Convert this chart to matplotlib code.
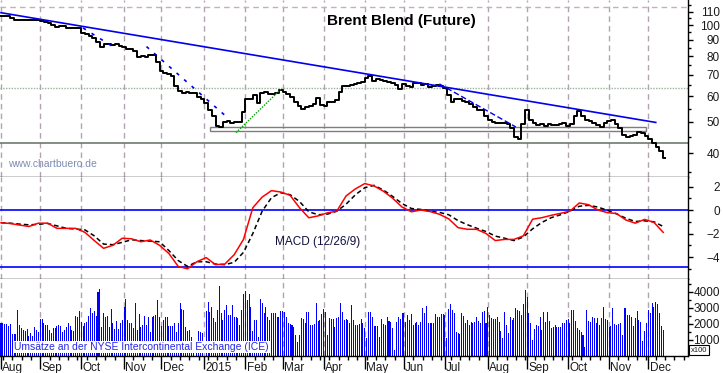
import numpy as np
import pandas as pd
import matplotlib
matplotlib.use('Agg')
import matplotlib.pyplot as plt
from matplotlib.patches import Rectangle
from matplotlib.ticker import NullFormatter

plt.rcParams['font.family'] = ['Liberation Sans', 'DejaVu Sans']

# trading calendar of the chart (x axis = trading day number)
days = pd.bdate_range('2014-08-01', '2015-12-31')

# Brent close, every 2nd trading day from 2014-08-01
close = [106.8, 106.6, 106.3, 105.5, 104.0, 103.6, 103.4, 103.9, 103.9, 103.6,
         103.9, 103.0, 102.4, 101.2, 100.0, 98.6, 99.3, 99.5, 98.2, 97.9,
         98.1, 97.7, 94.4, 93.6, 92.6, 90.9, 88.5, 85.4, 87.0, 87.1,
         86.7, 87.1, 86.2, 85.7, 84.2, 84.2, 83.0, 79.5, 80.3, 79.7,
         80.7, 80.4, 76.7, 71.9, 70.8, 70.4, 69.4, 64.6, 62.4, 61.6,
         61.9, 61.5, 61.3, 59.7, 58.7, 57.2, 54.4, 52.0, 48.7, 48.2,
         50.0, 50.2, 49.7, 49.8, 49.8, 53.6, 58.7, 58.7, 60.4, 57.4,
         61.3, 62.1, 61.0, 61.2, 61.5, 62.6, 61.9, 61.2, 59.6, 57.7,
         56.0, 55.0, 55.7, 56.2, 57.0, 59.5, 56.6, 55.9, 57.8, 57.6,
         58.5, 61.9, 64.5, 64.8, 65.1, 65.7, 65.8, 66.6, 68.2, 69.2,
         67.2, 68.1, 67.6, 67.0, 66.5, 66.2, 65.2, 63.2, 65.5, 64.6,
         64.2, 65.9, 66.0, 65.2, 65.5, 64.3, 64.7, 65.0, 64.5, 63.5,
         60.6, 57.5, 59.1, 58.8, 58.1, 57.7, 57.0, 55.8, 54.6, 54.3,
         52.1, 50.7, 50.0, 49.5, 49.6, 49.5, 49.1, 47.9, 44.9, 44.1,
         49.2, 54.4, 50.8, 49.7, 48.9, 49.2, 48.7, 49.4, 49.0, 48.9,
         49.2, 49.5, 48.5, 49.2, 52.1, 54.1, 52.3, 50.8, 50.4, 49.6,
         48.9, 48.2, 49.6, 50.3, 50.7, 49.4, 47.8, 45.6, 44.8, 45.1,
         45.5, 46.4, 46.3, 45.1, 44.1, 42.9, 41.8, 40.6, 38.6]

# MACD (12/26/9) and signal, every 5th trading day
macd = [-1.08, -1.15, -1.28, -1.40, -1.12, -1.12, -1.56, -1.56, -1.56, -1.90,
        -2.60, -3.26, -3.00, -2.40, -2.45, -2.70, -2.55, -3.00, -3.70, -4.80,
        -5.00, -4.40, -4.05, -4.65, -4.60, -3.80, -2.50, 0.20, 1.10, 1.65,
        1.53, 1.25, 0.20, -0.66, -0.50, -0.24, -0.10, 1.20, 1.80, 2.25,
        2.05, 1.60, 1.00, 0.25, -0.15, 0.00, -0.13, -0.36, -0.75, -1.50,
        -1.64, -1.64, -2.00, -2.60, -2.50, -2.50, -2.20, -0.78, -0.65, -0.45,
        -0.28, -0.10, 0.60, 0.45, 0.00, -0.22, -0.30, -0.85, -1.12, -0.80,
        -1.05, -1.90]
signal = [-1.08, -1.12, -1.20, -1.26, -1.22, -1.14, -1.35, -1.56, -1.62, -1.69,
          -2.20, -2.90, -2.95, -2.75, -2.53, -2.60, -2.65, -2.70, -3.45, -4.30,
          -4.80, -4.40, -4.40, -4.60, -4.65, -4.45, -3.60, -2.00, -0.10, 1.05,
          1.47, 1.30, 0.73, -0.15, -0.40, -0.35, -0.10, 0.50, 1.30, 1.90,
          2.10, 1.70, 1.15, 0.55, 0.13, 0.05, -0.10, -0.20, -0.40, -0.90,
          -1.25, -1.55, -1.83, -2.22, -2.40, -2.60, -2.30, -1.60, -1.05, -0.65,
          -0.40, -0.10, 0.32, 0.40, 0.25, -0.02, -0.33, -0.70, -0.98, -0.92,
          -1.00, -1.40]

# daily volume (x100 contracts), one value per trading day
volume_2014 = [2080, 2040, 2000, 2000, 1880, 2000, 1380, 1380, 1400, 2880, 1940, 1730, 1630, 1580, 1670,
               1250, 1420, 1250, 1830, 1630, 1500,
               2310, 2310, 2080, 1940, 1940, 1630, 1460, 1730, 1730, 1900, 1940, 1880, 1520, 1630, 1830,
               2080, 1880, 1630, 1580, 2500, 2420, 2830,
               2150, 1880, 2080, 2150, 2500, 2980, 2670, 2800, 2500, 4020, 4170, 1830, 2710, 2460, 2500,
               1830, 2920, 2080, 1670, 2210, 1670, 2040, 2250,
               3080, 3540, 2250, 2040, 2040, 1730, 3290, 1630, 2630, 1830, 1960, 2500, 1960, 2460, 1520,
               2420, 2500, 2540, 3500, 2460, 1900,
               2250, 2460, 2460, 1880, 1880, 1880, 2040, 1520, 2040, 3290, 2920, 2880, 1830, 1580, 1630,
               1200, 600, 0, 400, 1560, 1500, 1460, 0]
volume_2015a = [2830, 3400, 2770, 3080, 2350, 2150, 2880, 4400, 2670, 2250,
                2880, 3190, 2560, 2560, 3190, 2460, 2420, 2350, 1940, 2880,
                3880, 4080, 3500, 3880, 3080, 1580, 2250, 2250, 1210, 3540,
                3290, 2670, 3040, 2460, 2250, 2710, 2670, 2710, 2460, 2460,
                2830, 2800, 2770, 2460, 2040, 2000, 1940, 1790, 1310, 900,
                1310, 2350, 2290, 2040, 2770, 2770, 1940, 1940, 2000, 3290,
                2210, 2250, 2630, 2920, 2770, 1310, 2350, 2290, 2290, 1830,
                2350, 2420, 3330, 2770, 2250, 2290, 2250, 2040, 3190, 2250,
                1940, 1940, 2000]
volume_2015b = [2290, 2080, 1730, 1100, 2770, 2770, 2420, 1880, 1880, 1880, 1170,
                2290, 2000, 1940, 2460, 2210, 2150, 1730, 380, 2150, 2460,
                2290, 2670, 2670, 2150, 2560, 2250, 2630, 1940, 2080, 2150, 1940,
                2150, 2980, 2710, 3130, 2080, 2040, 2040, 2040, 2600, 2460, 2460,
                2630, 2630, 2560, 1100, 2920, 3250, 2880, 2710, 1520, 1420,
                1350, 2670, 2500, 2080, 2250, 1940, 2150, 2080, 2150, 2460, 2210,
                2080, 2770, 2830, 2080, 3080, 2560, 2350, 2300, 2290, 2460, 2150,
                1580, 1100, 2770, 1940, 1420, 2460, 2250, 2350, 2980, 2880, 2800,
                2560, 3250, 4130, 3710, 2670, 2040, 1000, 1670, 1940, 1880,
                2460, 1630, 2770, 2150, 2770, 2210, 1730, 1800, 1940, 1830, 1790,
                1830, 2080, 2080, 2250, 2310, 2040, 2900, 2880, 2210, 1730,
                1630, 1500, 1310, 580, 2900, 2210, 2150, 2420, 2350, 2040, 2350,
                1940, 2350, 3040, 2290, 2250, 1830, 1900, 2980, 2000, 1940, 2000,
                2080, 1310, 2980, 2980, 2560, 2560, 2460, 1880, 2350, 2830,
                2250, 2100, 960, 1580, 2080, 2880, 2670, 3290, 3040, 3400, 3250,
                2710, 1880, 1630]
volume = volume_2014 + volume_2015a + volume_2015b

# drawn trend lines (date, price)
trend_long = [('2014-08-01', 109.2), ('2015-12-07', 49.8)]
trend_dash1 = [('2014-10-02', 97.9), ('2014-10-28', 84.2)]
trend_dash2 = [('2014-11-19', 85.7), ('2015-01-20', 51.2)]
trend_summer = [('2015-06-26', 65.6), ('2015-08-24', 48.2)]
trend_green = [('2015-01-26', 46.3), ('2015-02-27', 63.1)]
support_box = ('2015-01-06', '2015-11-30', 46.9, 48.3)
support_low = 42.9
level_mid = 63.6
level_top = 114.0

W, H = 723, 373
fig = plt.figure(figsize=(W / 100, H / 100), dpi=100)
fig.patch.set_facecolor('white')


def rect(x0, y0, x1, y1):
    return [x0 / W, 1 - y1 / H, (x1 - x0) / W, (y1 - y0) / H]


def tpos(d):
    return days.get_loc(pd.Timestamp(d))


ax1 = fig.add_axes(rect(0, 0, 688, 177))
ax2 = fig.add_axes(rect(0, 177, 688, 279))
ax3 = fig.add_axes(rect(0, 279, 688, 356))

px_per_day = 1.8654
xlim = (-1 / px_per_day, 687 / px_per_day)

month_first = pd.Series(np.arange(len(days)), index=days).groupby([days.year, days.month]).first()
month_pos = month_first.values
month_lab = [('2015' if m == 1 else pd.Timestamp(2000, m, 1).strftime('%b')) for (y, m) in month_first.index]
week_pos = np.where(days.weekday == 0)[0]

grid_col = '#b0a4b0'
lab_col = '#1a1a1a'
for ax in (ax1, ax2, ax3):
    ax.set_xlim(*xlim)
    for p in month_pos:
        ax.axvline(p, color=grid_col, lw=1, ls=(0, (4, 3)), zorder=0)
    ax.spines['left'].set_visible(False)
    ax.spines['top'].set_visible(False)
    ax.spines['right'].set_linewidth(1)
    ax.spines['bottom'].set_linewidth(1)
    ax.yaxis.tick_right()
    ax.tick_params(axis='y', which='major', length=3.6, width=1, pad=19.4,
                   labelsize=8.5, labelcolor=lab_col, direction='out')
    ax.tick_params(axis='y', which='minor', length=2, width=1, direction='out')
    if ax is not ax3:
        ax.tick_params(axis='x', which='both', bottom=False, labelbottom=False)

# price panel
t_close = np.arange(len(close)) * 2
ax1.set_yscale('log')
ax1.set_ylim(33.7, 119.6)
ax1.axhline(level_top, color='#c4aec4', lw=1, ls=(0, (4, 3)), zorder=1)
ax1.axhline(level_mid, color='#9fb09f', lw=1, ls=(0, (1, 1)), zorder=1)
ax1.axhline(support_low, color='#6f7a6f', lw=1.2, zorder=1)
b0, b1, lo, hi = support_box
ax1.add_patch(Rectangle((tpos(b0), lo), tpos(b1) - tpos(b0), hi - lo,
                        fill=False, ec='#7d7d7d', lw=1, zorder=2))
ax1.plot(t_close, close, color='black', lw=1.4, drawstyle='steps-mid', zorder=3)
for line, ls, lw in [(trend_long, '-', 1.2), (trend_dash1, (0, (2, 4)), 1.2),
                     (trend_dash2, (0, (2, 4)), 1.2), (trend_summer, (0, (4, 2)), 1.0)]:
    ax1.plot([tpos(d) for d, _ in line], [v for _, v in line], color='#0000ee', lw=lw, ls=ls, zorder=4)
ax1.plot([tpos(d) for d, _ in trend_green], [v for _, v in trend_green],
         color='#00a000', lw=1, ls=(0, (1, 1)), zorder=4)
ax1.set_yticks([40, 50, 60, 70, 80, 90, 100, 110])
ax1.set_yticklabels(['40', '50', '60', '70', '80', '90', '100', '110'])
ax1.set_yticks(np.arange(35, 120, 10), minor=True)
ax1.yaxis.set_minor_formatter(NullFormatter())

# MACD panel
t_macd = np.arange(len(macd)) * 5
ax2.set_ylim(-5.87, 2.81)
ax2.axhline(0, color='#0000ff', lw=1.2, zorder=1)
ax2.axhline(-4.85, color='#0000ff', lw=1.2, zorder=1)
ax2.plot(t_macd, signal, color='black', lw=1.1, ls=(0, (3, 2)), zorder=3)
ax2.plot(t_macd, macd, color='#ff0000', lw=1.1, zorder=4)
ax2.set_yticks([-4, -2, 0, 2])
ax2.set_yticks([-5, -3, -1, 1], minor=True)

# volume panel
ax3.set_ylim(0, 4812)
ax3.bar(np.arange(len(volume)), volume, width=0.55, color='#0000ff', lw=0, zorder=2)
ax3.set_yticks([1000, 2000, 3000, 4000])
ax3.set_yticks([500, 1500, 2500, 3500, 4500], minor=True)
ax3.set_xticks(month_pos)
ax3.set_xticklabels([])
ax3.set_xticks(week_pos, minor=True)
ax3.tick_params(axis='x', which='major', length=9, width=1, direction='out')
ax3.tick_params(axis='x', which='minor', length=3, width=1, direction='out')
for p, lab in zip(month_pos, month_lab):
    ax3.text(p + 0.7, -0.15, lab, transform=ax3.get_xaxis_transform(),
             fontsize=8.5, color=lab_col, ha='left', va='center')

for ax in (ax1, ax2, ax3):
    for lab in ax.get_yticklabels():
        lab.set_horizontalalignment('right')

fig.text(401 / W, 1 - 20.7 / H, 'Brent Blend (Future)', fontsize=11, fontweight='bold',
         ha='center', va='center')
fig.text(8 / W, 1 - 164.3 / H, 'www.chartbuero.de', fontsize=7.5, color='#7d8bb5',
         ha='left', va='center')
fig.text(275 / W, 1 - 241.7 / H, 'MACD (12/26/9)', fontsize=8.5, color='#101040',
         ha='left', va='center')
fig.text(14 / W, 1 - 347.3 / H, 'Umsätze an der NYSE Intercontinental Exchange (ICE)',
         fontsize=7.5, color='#2828e6', ha='left', va='center',
         bbox=dict(boxstyle='square,pad=0.1', fc='white', ec='none'))
fig.text(699 / W, 1 - 350 / H, 'x100', fontsize=5.5, color=lab_col, ha='center', va='center',
         bbox=dict(boxstyle='square,pad=0.2', fc='white', ec='black', lw=0.8))

fig.savefig('out.png', dpi=100)
